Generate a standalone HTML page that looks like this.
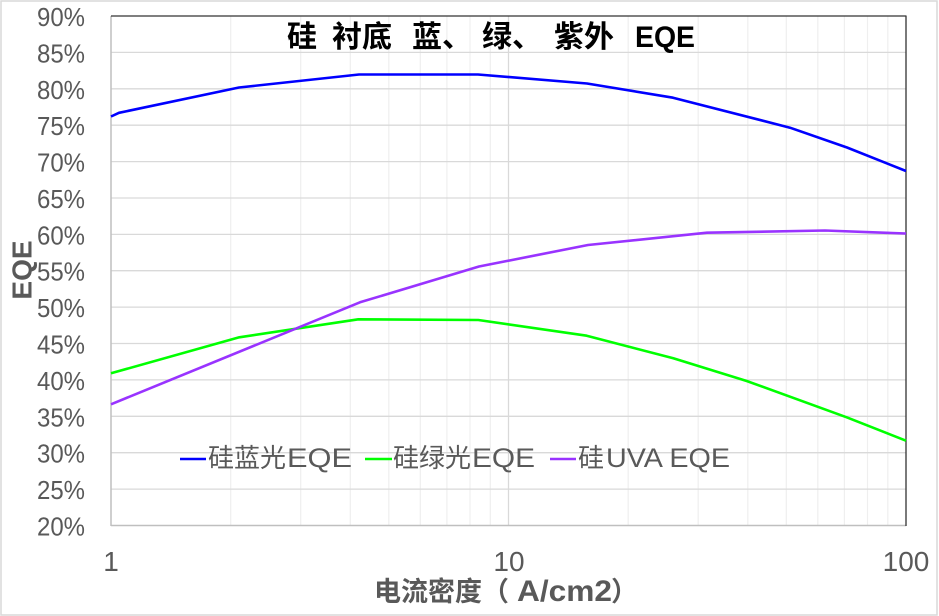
<!DOCTYPE html>
<html>
<head>
<meta charset="utf-8">
<style>
  html, body { margin: 0; padding: 0; background: #ffffff; }
  svg { display: block; }
  text { font-family: "Liberation Sans", "Noto Sans CJK SC", sans-serif; }
  .cjk { font-family: "Noto Sans CJK SC", "Liberation Sans", sans-serif; }
</style>
</head>
<body>
<svg width="939" height="616" viewBox="0 0 939 616" xmlns="http://www.w3.org/2000/svg">
  <rect x="0" y="0" width="939" height="616" fill="#ffffff"/>
  <rect x="1" y="1" width="936" height="614" fill="none" stroke="#d9d9d9" stroke-width="1.5"/>

  <!-- minor vertical gridlines -->
  <g stroke="#efefef" stroke-width="1.2">
    <line x1="230.7" y1="16" x2="230.7" y2="525.5"/>
    <line x1="300.7" y1="16" x2="300.7" y2="525.5"/>
    <line x1="350.3" y1="16" x2="350.3" y2="525.5"/>
    <line x1="388.8" y1="16" x2="388.8" y2="525.5"/>
    <line x1="420.3" y1="16" x2="420.3" y2="525.5"/>
    <line x1="446.9" y1="16" x2="446.9" y2="525.5"/>
    <line x1="470.0" y1="16" x2="470.0" y2="525.5"/>
    <line x1="490.3" y1="16" x2="490.3" y2="525.5"/>
    <line x1="628.2" y1="16" x2="628.2" y2="525.5"/>
    <line x1="698.2" y1="16" x2="698.2" y2="525.5"/>
    <line x1="747.8" y1="16" x2="747.8" y2="525.5"/>
    <line x1="786.3" y1="16" x2="786.3" y2="525.5"/>
    <line x1="817.8" y1="16" x2="817.8" y2="525.5"/>
    <line x1="844.4" y1="16" x2="844.4" y2="525.5"/>
    <line x1="867.5" y1="16" x2="867.5" y2="525.5"/>
    <line x1="887.8" y1="16" x2="887.8" y2="525.5"/>
  </g>

  <!-- major gridlines -->
  <g stroke="#d9d9d9" stroke-width="1.3">
    <line x1="111" y1="52.4" x2="906" y2="52.4"/>
    <line x1="111" y1="88.8" x2="906" y2="88.8"/>
    <line x1="111" y1="125.2" x2="906" y2="125.2"/>
    <line x1="111" y1="161.6" x2="906" y2="161.6"/>
    <line x1="111" y1="198.0" x2="906" y2="198.0"/>
    <line x1="111" y1="234.4" x2="906" y2="234.4"/>
    <line x1="111" y1="270.7" x2="906" y2="270.7"/>
    <line x1="111" y1="307.1" x2="906" y2="307.1"/>
    <line x1="111" y1="343.5" x2="906" y2="343.5"/>
    <line x1="111" y1="379.9" x2="906" y2="379.9"/>
    <line x1="111" y1="416.3" x2="906" y2="416.3"/>
    <line x1="111" y1="452.7" x2="906" y2="452.7"/>
    <line x1="111" y1="489.1" x2="906" y2="489.1"/>
    <line x1="508.5" y1="16" x2="508.5" y2="525.5"/>
  </g>

  <!-- axes / frame -->
  <line x1="111" y1="16" x2="111" y2="526" stroke="#bfbfbf" stroke-width="1.5"/>
  <line x1="111" y1="525.5" x2="906" y2="525.5" stroke="#bfbfbf" stroke-width="1.5"/>
  <line x1="111" y1="16" x2="906.5" y2="16" stroke="#333333" stroke-width="1.3"/>
  <line x1="906" y1="16" x2="906" y2="526" stroke="#333333" stroke-width="1.3"/>

  <!-- series -->
  <polyline fill="none" stroke="#00ff00" stroke-width="2.6" stroke-linejoin="round"
    points="111,373.3 239.3,337.3 358.3,319.3 478.3,320 586.7,335.7 673.3,358.3 746.7,381 846.7,417.3 906,440.7"/>
  <polyline fill="none" stroke="#9933ff" stroke-width="2.6" stroke-linejoin="round"
    points="111,404.3 360,302.3 479,266.5 588,245 707,232.7 825,230.5 906,233.5"/>
  <polyline fill="none" stroke="#0000ff" stroke-width="2.6" stroke-linejoin="round"
    points="111,116.5 119,112.8 239,87.5 359,74.5 478,74.5 587,83.5 673,97.7 790,127.7 847,147.5 906,171"/>

  <!-- y tick labels -->
  <g font-size="26" fill="#595959">
    <text x="37" y="26" textLength="48" lengthAdjust="spacingAndGlyphs">90%</text>
    <text x="37" y="62.4" textLength="48" lengthAdjust="spacingAndGlyphs">85%</text>
    <text x="37" y="98.8" textLength="48" lengthAdjust="spacingAndGlyphs">80%</text>
    <text x="37" y="135.2" textLength="48" lengthAdjust="spacingAndGlyphs">75%</text>
    <text x="37" y="171.6" textLength="48" lengthAdjust="spacingAndGlyphs">70%</text>
    <text x="37" y="208" textLength="48" lengthAdjust="spacingAndGlyphs">65%</text>
    <text x="37" y="244.4" textLength="48" lengthAdjust="spacingAndGlyphs">60%</text>
    <text x="37" y="280.7" textLength="48" lengthAdjust="spacingAndGlyphs">55%</text>
    <text x="37" y="317.1" textLength="48" lengthAdjust="spacingAndGlyphs">50%</text>
    <text x="37" y="353.5" textLength="48" lengthAdjust="spacingAndGlyphs">45%</text>
    <text x="37" y="389.9" textLength="48" lengthAdjust="spacingAndGlyphs">40%</text>
    <text x="37" y="426.3" textLength="48" lengthAdjust="spacingAndGlyphs">35%</text>
    <text x="37" y="462.7" textLength="48" lengthAdjust="spacingAndGlyphs">30%</text>
    <text x="37" y="499.1" textLength="48" lengthAdjust="spacingAndGlyphs">25%</text>
    <text x="37" y="535.5" textLength="48" lengthAdjust="spacingAndGlyphs">20%</text>
  </g>

  <!-- x tick labels -->
  <g font-size="28" fill="#595959" text-anchor="middle">
    <text x="111" y="571">1</text>
    <text x="509" y="571">10</text>
    <text x="906" y="571">100</text>
  </g>

  <!-- axis titles -->
  <text transform="translate(31.5,270) rotate(-90)" text-anchor="middle" font-size="28" font-weight="bold" fill="#595959">EQE</text>
  <text class="cjk" x="374" y="601" font-size="27" font-weight="bold" fill="#595959">电流密度（</text>
  <text x="517" y="601" font-size="30" font-weight="bold" fill="#595959" textLength="95" lengthAdjust="spacingAndGlyphs">A/cm2</text>
  <text class="cjk" x="611" y="601" font-size="27" font-weight="bold" fill="#595959">）</text>

  <!-- chart title -->
  <g class="cjk" font-size="30" font-weight="bold" fill="#000000">
    <text x="287" y="47">硅</text>
    <text x="332" y="47">衬底</text>
    <text x="412" y="47">蓝、</text>
    <text x="482" y="47">绿、</text>
    <text x="554" y="47">紫外</text>
  </g>
  <text x="635" y="47" font-size="30" font-weight="bold" fill="#000000" textLength="60" lengthAdjust="spacingAndGlyphs">EQE</text>

  <!-- legend -->
  <line x1="180" y1="459" x2="206" y2="459" stroke="#0000ff" stroke-width="2.6"/>
  <text class="cjk" x="208" y="467" font-size="26" fill="#595959">硅蓝光</text>
  <text x="287" y="467" font-size="27" fill="#595959" textLength="65" lengthAdjust="spacingAndGlyphs">EQE</text>

  <line x1="365" y1="459" x2="392" y2="459" stroke="#00ff00" stroke-width="2.6"/>
  <text class="cjk" x="393" y="467" font-size="26" fill="#595959">硅绿光</text>
  <text x="472" y="467" font-size="27" fill="#595959" textLength="63" lengthAdjust="spacingAndGlyphs">EQE</text>

  <line x1="550" y1="459" x2="576" y2="459" stroke="#9933ff" stroke-width="2.6"/>
  <text class="cjk" x="578" y="467" font-size="26" fill="#595959">硅</text>
  <text x="606" y="467" font-size="27" fill="#595959" textLength="124" lengthAdjust="spacingAndGlyphs">UVA EQE</text>
</svg>
</body>
</html>
